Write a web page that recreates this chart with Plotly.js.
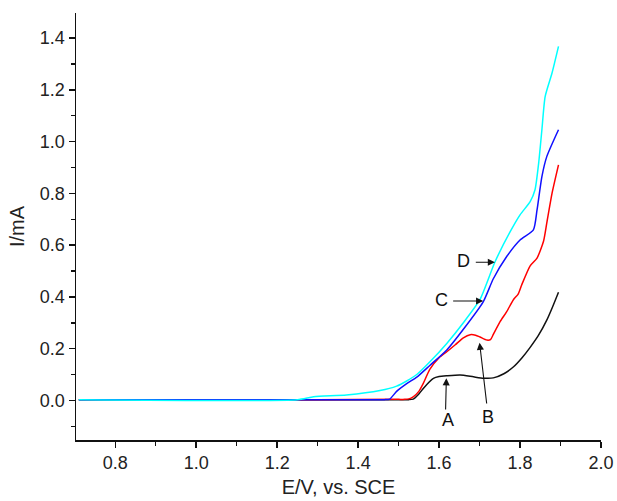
<!DOCTYPE html>
<html>
<head>
<meta charset="utf-8">
<script src="https://cdn.plot.ly/plotly-3.0.1.min.js"></script>
<style>html,body{margin:0;padding:0;background:#fff}#chart{width:617px;height:501px}</style>
</head>
<body>
<div id="chart"></div>
<script>
// Curve A (black)
const xA = [0.71, 1.30, 1.50, 1.525, 1.536, 1.55, 1.561, 1.575, 1.586, 1.60, 1.619, 1.652, 1.685, 1.71, 1.734, 1.76, 1.784, 1.805, 1.825, 1.845, 1.866, 1.88, 1.895];
const yA = [0.003, 0.003, 0.003, 0.003, 0.005, 0.025, 0.046, 0.07, 0.085, 0.092, 0.095, 0.098, 0.091, 0.086, 0.087, 0.103, 0.13, 0.165, 0.205, 0.25, 0.31, 0.36, 0.418];
// Curve B (red)
const xB = [0.71, 1.30, 1.50, 1.515, 1.525, 1.536, 1.55, 1.561, 1.577, 1.60, 1.619, 1.640, 1.660, 1.677, 1.690, 1.701, 1.718, 1.727, 1.734, 1.751, 1.767, 1.784, 1.795, 1.804, 1.825, 1.842, 1.858, 1.866, 1.879, 1.895];
const yB = [0.003, 0.003, 0.004, 0.004, 0.006, 0.014, 0.035, 0.066, 0.12, 0.165, 0.188, 0.215, 0.242, 0.254, 0.252, 0.245, 0.233, 0.235, 0.255, 0.305, 0.343, 0.39, 0.41, 0.446, 0.52, 0.55, 0.615, 0.685, 0.80, 0.91];
// Curve C (blue)
const xC = [0.71, 1.30, 1.44, 1.465, 1.478, 1.495, 1.52, 1.545, 1.577, 1.619, 1.660, 1.709, 1.734, 1.767, 1.80, 1.833, 1.842, 1.854, 1.866, 1.895];
const yC = [0.003, 0.003, 0.003, 0.003, 0.005, 0.035, 0.065, 0.09, 0.135, 0.195, 0.275, 0.381, 0.47, 0.556, 0.62, 0.659, 0.736, 0.865, 0.942, 1.046];
// Curve D (cyan)
const xD = [0.71, 1.25, 1.29, 1.371, 1.454, 1.495, 1.52, 1.545, 1.578, 1.619, 1.660, 1.701, 1.738, 1.775, 1.80, 1.825, 1.837, 1.846, 1.854, 1.862, 1.879, 1.895];
const yD = [0.003, 0.003, 0.014, 0.021, 0.038, 0.055, 0.075, 0.10, 0.15, 0.22, 0.30, 0.39, 0.535, 0.65, 0.717, 0.768, 0.814, 0.917, 1.046, 1.174, 1.265, 1.368];

// Curve labels and their arrows
const labelNames = ["A", "B", "C", "D"];
const labelX = [1.623, 1.722, 1.606, 1.660];
const labelY = [-0.074, -0.063, 0.388, 0.539];
const arrowTailX = [1.616, 1.718, 1.631, 1.687];
const arrowTailY = [-0.041, -0.018, 0.384, 0.534];
const arrowHeadX = [1.618, 1.700, 1.709, 1.738];
const arrowHeadY = [0.086, 0.223, 0.384, 0.534];

const lw = 1.5;
const ln = (c) => ({color: c, width: lw, shape: 'spline', smoothing: 0.6});
const traces = [
  {x: xA, y: yA, mode: 'lines', line: ln('#111111'), name: 'A'},
  {x: xB, y: yB, mode: 'lines', line: ln('#ff0000'), name: 'B'},
  {x: xC, y: yC, mode: 'lines', line: ln('#1010ff'), name: 'C'},
  {x: xD, y: yD, mode: 'lines', line: ln('#00ffff'), name: 'D'}
];

const annotations = [];
for (let i = 0; i < labelNames.length; i++) {
  annotations.push({
    x: arrowHeadX[i], y: arrowHeadY[i], ax: arrowTailX[i], ay: arrowTailY[i],
    xref: 'x', yref: 'y', axref: 'x', ayref: 'y', text: '',
    showarrow: true, arrowhead: 2, arrowsize: 1.3, arrowwidth: 1.1, arrowcolor: '#111', standoff: 0, startstandoff: 0
  });
  annotations.push({
    x: labelX[i], y: labelY[i], xref: 'x', yref: 'y', text: labelNames[i], showarrow: false,
    font: {family: 'Liberation Sans, Arial, sans-serif', size: 18, color: '#111'}
  });
}

const font = {family: 'Liberation Sans, Arial, sans-serif', size: 17, color: '#222'};
const layout = {
  width: 617, height: 501,
  margin: {l: 76, r: 16, t: 13, b: 61, pad: 0},
  paper_bgcolor: '#fff', plot_bgcolor: '#fff',
  showlegend: false,
  font: font,
  xaxis: {
    range: [0.703, 2.0], showgrid: false, zeroline: false,
    showline: true, linecolor: '#111', linewidth: 1.5,
    ticks: 'outside', ticklen: 6, tickwidth: 1.5, tickcolor: '#111',
    tick0: 0, dtick: 0.2, tickformat: '.1f',
    minor: {dtick: 0.1, ticks: 'outside', ticklen: 4, tickwidth: 1.5, tickcolor: '#111', showgrid: false},
    tickfont: {family: 'Liberation Sans, Arial, sans-serif', size: 18, color: '#222'},
    title: {text: 'E/V, vs. SCE', font: {family: 'Liberation Sans, Arial, sans-serif', size: 20, color: '#222'}, standoff: 8}
  },
  yaxis: {
    range: [-0.153, 1.497], showgrid: false, zeroline: false,
    showline: true, linecolor: '#111', linewidth: 1.5,
    ticks: 'outside', ticklen: 6, tickwidth: 1.5, tickcolor: '#111',
    tick0: 0, dtick: 0.2, tickformat: '.1f',
    minor: {dtick: 0.1, ticks: 'outside', ticklen: 4, tickwidth: 1.5, tickcolor: '#111', showgrid: false},
    tickfont: {family: 'Liberation Sans, Arial, sans-serif', size: 18, color: '#222'},
    title: {text: 'I/mA', font: {family: 'Liberation Sans, Arial, sans-serif', size: 20, color: '#222'}, standoff: 10}
  },
  annotations: annotations
};

Plotly.newPlot('chart', traces, layout, {displayModeBar: false, staticPlot: true});
</script>
</body>
</html>
